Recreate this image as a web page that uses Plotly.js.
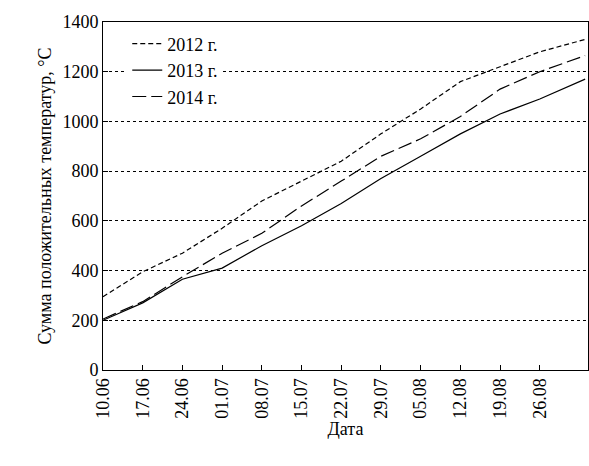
<!DOCTYPE html>
<html><head><meta charset="utf-8">
<script src="https://cdn.plot.ly/plotly-3.0.1.min.js"></script>
<style>body{margin:0}#plot{width:589px;height:466px}</style>
</head><body><div id="plot"></div>
<script>
// days since 10.06
const days = [0, 7, 14, 21, 28, 35, 42, 49, 56, 63, 70, 77, 85];
const tickDays = [0, 7, 14, 21, 28, 35, 42, 49, 56, 63, 70, 77];
const tickLabels = ['10.06','17.06','24.06','01.07','08.07','15.07','22.07','29.07','05.08','12.08','19.08','26.08'];
const y2012 = [295, 395, 470, 570, 680, 760, 840, 950, 1050, 1160, 1220, 1280, 1330];
const y2013 = [200, 270, 365, 410, 500, 580, 670, 770, 860, 950, 1030, 1090, 1170];
const y2014 = [205, 275, 375, 470, 550, 660, 760, 860, 930, 1020, 1130, 1200, 1265];

const font = {family: 'Liberation Serif, DejaVu Serif, serif', size: 18, color: '#000'};
const traces = [
	{x: days, y: y2012, name: '2012 г.', mode: 'lines', line: {color: '#000', width: 1.2, dash: '5px,3px'}},
	{x: days, y: y2013, name: '2013 г.', mode: 'lines', line: {color: '#000', width: 1.2}},
	{x: days, y: y2014, name: '2014 г.', mode: 'lines', line: {color: '#000', width: 1.2, dash: '14px,5px'}}
];
const layout = {
	width: 589, height: 466,
	margin: {l: 103, r: 1, t: 22, b: 96},
	font: font,
	showlegend: true,
	legend: {x: 0.05, y: 0.99, xanchor: 'left', yanchor: 'top', bgcolor: '#fff', font: font, tracegroupgap: 0},
	xaxis: {
		range: [0, 85.5], tickvals: tickDays, ticktext: tickLabels, tickangle: -90,
		showgrid: false, zeroline: false, showline: true, linecolor: '#000', mirror: true,
		ticks: 'inside', ticklen: 5, tickcolor: '#000',
		title: {text: 'Дата', font: font, standoff: 4}
	},
	yaxis: {
		range: [0, 1400], dtick: 200, showgrid: true, gridcolor: '#000', griddash: 'dot', gridwidth: 1,
		zeroline: false, showline: true, linecolor: '#000', mirror: true,
		ticks: 'inside', ticklen: 5, tickcolor: '#000',
		title: {text: 'Сумма положительных температур, °С', font: font, standoff: 6}
	},
	plot_bgcolor: '#fff', paper_bgcolor: '#fff'
};
Plotly.newPlot('plot', traces, layout, {displayModeBar: false});
</script></body></html>
